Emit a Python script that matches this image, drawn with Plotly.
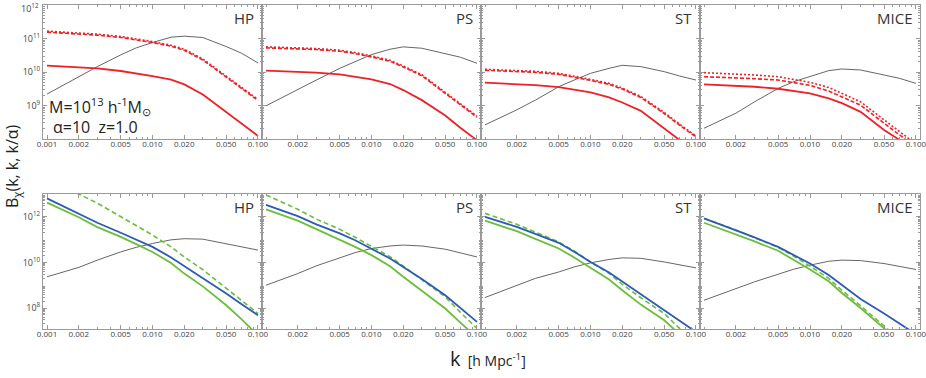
import plotly.graph_objects as go

# ---------------- data (log10 of B) ----------------
k = [0.001, 0.002, 0.003, 0.005, 0.007, 0.01, 0.015, 0.02, 0.03, 0.05, 0.07, 0.1]
panels = ["HP", "PS", "ST", "MICE"]
x_ticks = [0.001, 0.002, 0.005, 0.01, 0.02, 0.05, 0.1]
x_ticktext = ["0.001", "0.002", "0.005", "0.010", "0.020", "0.050", "0.100"]
top_yticks = [1e9, 1e10, 1e11, 1e12]
top_yticktext = ["10<sup>9</sup>", "10<sup>10</sup>", "10<sup>11</sup>", ""]
top_ylabel_edge = "10<sup>12</sup>"
bot_yticks = [1e8, 1e10, 1e12]
bot_yticktext = ["10<sup>8</sup>", "10<sup>10</sup>", "10<sup>12</sup>"]

# top row: grey reference, red solid, red dashed, red dotted
hp_top_gray = [9.34, 9.85, 10.16, 10.51, 10.72, 10.88, 11.04, 11.07, 11.03, 10.76, 10.56, 10.27]
hp_top_solid = [10.19, 10.15, 10.11, 10.03, 9.96, 9.88, 9.77, 9.63, 9.33, 8.81, 8.46, 8.09]
hp_top_dash = [11.19, 11.14, 11.10, 11.03, 10.96, 10.88, 10.77, 10.65, 10.36, 9.84, 9.49, 9.15]
hp_top_dot = [11.22, 11.17, 11.13, 11.06, 10.99, 10.91, 10.80, 10.68, 10.39, 9.87, 9.52, 9.18]

ps_top_gray = [8.99, 9.46, 9.76, 10.11, 10.31, 10.52, 10.68, 10.75, 10.71, 10.56, 10.44, 10.26]
ps_top_solid = [10.04, 10.01, 9.98, 9.93, 9.86, 9.78, 9.64, 9.46, 9.16, 8.70, 8.33, 7.96]
ps_top_dash = [10.72, 10.70, 10.67, 10.62, 10.55, 10.45, 10.32, 10.15, 9.89, 9.36, 9.01, 8.65]
ps_top_dot = [10.75, 10.73, 10.70, 10.65, 10.58, 10.48, 10.35, 10.18, 9.92, 9.39, 9.04, 8.68]

st_top_gray = [8.42, 8.87, 9.16, 9.56, 9.76, 9.96, 10.11, 10.20, 10.16, 10.01, 9.88, 9.76]
st_top_solid = [9.68, 9.64, 9.61, 9.55, 9.48, 9.39, 9.24, 9.09, 8.84, 8.32, 7.98, 7.60]
st_top_dash = [10.05, 10.02, 9.99, 9.93, 9.85, 9.75, 9.63, 9.49, 9.24, 8.76, 8.41, 8.06]
st_top_dot = [10.08, 10.05, 10.02, 9.96, 9.88, 9.78, 9.66, 9.52, 9.27, 8.79, 8.44, 8.09]

mice_top_gray = [8.32, 8.77, 9.11, 9.51, 9.71, 9.86, 10.04, 10.09, 10.06, 9.91, 9.81, 9.66]
mice_top_solid = [9.63, 9.59, 9.56, 9.50, 9.44, 9.36, 9.21, 9.07, 8.81, 8.27, 7.97, 7.60]
mice_top_dash = [9.86, 9.83, 9.80, 9.76, 9.68, 9.60, 9.43, 9.26, 9.01, 8.47, 8.12, 7.75]
mice_top_dot = [9.98, 9.94, 9.91, 9.86, 9.78, 9.69, 9.54, 9.36, 9.11, 8.57, 8.22, 7.85]

# bottom row: grey reference, blue solid, green solid, green dashed
hp_bot_gray = [9.37, 9.78, 10.10, 10.46, 10.66, 10.83, 10.99, 11.04, 11.02, 10.83, 10.70, 10.54]
hp_bot_blue = [12.81, 12.15, 11.74, 11.30, 11.01, 10.68, 10.22, 9.84, 9.33, 8.64, 8.17, 7.68]
hp_bot_green = [12.62, 11.98, 11.55, 11.12, 10.80, 10.46, 9.97, 9.51, 8.95, 8.12, 7.50, 6.80]
hp_bot_gdash = [13.60, 13.00, 12.60, 12.00, 11.60, 11.20, 10.68, 10.24, 9.68, 8.85, 8.30, 7.76]

ps_bot_gray = [9.00, 9.51, 9.85, 10.22, 10.43, 10.61, 10.72, 10.76, 10.72, 10.58, 10.43, 10.24]
ps_bot_blue = [12.52, 12.03, 11.67, 11.27, 10.97, 10.61, 10.17, 9.80, 9.27, 8.56, 8.00, 7.39]
ps_bot_green = [12.33, 11.83, 11.46, 11.00, 10.68, 10.32, 9.83, 9.37, 8.75, 7.98, 7.35, 6.70]
ps_bot_gdash = [12.96, 12.33, 11.90, 11.45, 11.10, 10.71, 10.25, 9.84, 9.24, 8.49, 7.80, 7.10]

st_bot_gray = [8.46, 9.00, 9.30, 9.58, 9.80, 9.98, 10.13, 10.20, 10.18, 10.02, 9.90, 9.76]
st_bot_blue = [12.00, 11.56, 11.25, 10.86, 10.47, 10.02, 9.56, 9.15, 8.60, 7.90, 7.45, 6.95]
st_bot_green = [11.83, 11.37, 11.03, 10.61, 10.22, 9.78, 9.25, 8.78, 8.15, 7.46, 6.85, 6.20]
st_bot_gdash = [12.15, 11.67, 11.33, 10.90, 10.50, 10.02, 9.52, 9.04, 8.45, 7.76, 7.10, 6.50]

mice_bot_gray = [8.34, 8.85, 9.15, 9.48, 9.70, 9.88, 10.05, 10.10, 10.08, 9.95, 9.83, 9.69]
mice_bot_blue = [11.93, 11.42, 11.10, 10.68, 10.33, 9.95, 9.45, 9.00, 8.40, 7.76, 7.30, 6.85]
mice_bot_green = [11.74, 11.24, 10.92, 10.51, 10.13, 9.69, 9.17, 8.66, 8.00, 7.15, 6.60, 5.90]
mice_bot_gdash = [11.93, 11.42, 11.08, 10.66, 10.28, 9.84, 9.30, 8.78, 8.10, 7.25, 6.70, 6.00]

top_gray = [hp_top_gray, ps_top_gray, st_top_gray, mice_top_gray]
top_solid = [hp_top_solid, ps_top_solid, st_top_solid, mice_top_solid]
top_dash = [hp_top_dash, ps_top_dash, st_top_dash, mice_top_dash]
top_dot = [hp_top_dot, ps_top_dot, st_top_dot, mice_top_dot]
bot_gray = [hp_bot_gray, ps_bot_gray, st_bot_gray, mice_bot_gray]
bot_blue = [hp_bot_blue, ps_bot_blue, st_bot_blue, mice_bot_blue]
bot_green = [hp_bot_green, ps_bot_green, st_bot_green, mice_bot_green]
bot_gdash = [hp_bot_gdash, ps_bot_gdash, st_bot_gdash, mice_bot_gdash]

# ---------------- styling ----------------
W, H = 926, 378
RED = "#ec2227"
BLUE = "#2b5bb8"
GREEN = "#6cbd3c"
GRAY = "#555555"
FRAME = "#9a9a9a"
FONT = "Open Sans"

x_edges = [43, 262, 481, 700, 920]
top_px = (5, 139)
bot_px = (194, 329)


def ydom(px):
    return [1 - px[1] / H, 1 - px[0] / H]


minor_x = [m * 10 ** e for e in (-3, -2) for m in range(1, 10)] + [0.1]
minor_top_y = [m * 10 ** e for e in range(8, 12) for m in range(2, 10)]
minor_bot_y = [m * 10 ** e for e in range(7, 13) for m in range(2, 10)]

fig = go.Figure()
layout = {}


def add(i, x, ylog, color, width, dash="solid"):
    ax = "" if i == 1 else str(i)
    fig.add_trace(go.Scatter(
        x=x, y=[10 ** v for v in ylog], mode="lines", xaxis="x" + ax, yaxis="y" + ax,
        line=dict(color=color, width=width, dash=dash),
        showlegend=False, hoverinfo="skip"))


for row in range(2):
    for p in range(4):
        i = row * 4 + p + 1
        ax = "" if i == 1 else str(i)
        xd = [x_edges[p] / W, x_edges[p + 1] / W]
        yd = ydom(top_px if row == 0 else bot_px)
        tvx = x_ticks if p == 0 else x_ticks[1:]
        ttx = x_ticktext if p == 0 else x_ticktext[1:]
        layout["xaxis" + ax] = dict(
            type="log", domain=xd, range=[-3.038, -0.962], anchor="y" + ax,
            tickvals=tvx, ticktext=ttx, ticks="inside", ticklen=4,
            tickcolor=FRAME, showline=True, linecolor=FRAME, linewidth=1,
            mirror="ticks", showgrid=False, zeroline=False, automargin=False,
            ticklabelstandoff=-3, ticklabeloverflow="allow",
            tickfont=dict(size=8, color="#444", family=FONT),
            minor=dict(tickvals=minor_x, ticks="inside", ticklen=2, tickcolor=FRAME, showgrid=False),
        )
        if row == 0:
            yr = [7.999, 12.001]
            tv, tt, mv = top_yticks, top_yticktext, minor_top_y
        else:
            yr = [7.08, 13.0]
            tv, tt, mv = bot_yticks, bot_yticktext, minor_bot_y
        layout["yaxis" + ax] = dict(
            type="log", domain=yd, range=yr, anchor="x" + ax,
            tickvals=tv, ticktext=tt, showticklabels=(p == 0),
            ticks="inside", ticklen=4, tickcolor=FRAME,
            showline=True, linecolor=FRAME, linewidth=1, mirror="ticks",
            showgrid=False, zeroline=False, ticklabeloverflow="allow", automargin=False,
            tickfont=dict(size=9, color="#444", family=FONT),
            minor=dict(tickvals=mv, ticks="inside", ticklen=2, tickcolor=FRAME, showgrid=False),
        )
        if row == 0:
            add(i, k, top_gray[p], GRAY, 0.9)
            add(i, k, top_solid[p], RED, 1.8)
            add(i, k, top_dash[p], RED, 1.6, "4px,2px")
            add(i, k, top_dot[p], RED, 1.6, "2px,2px")
        else:
            add(i, k, bot_gray[p], GRAY, 0.9)
            add(i, k, bot_gdash[p], GREEN, 1.6, "5px,3px")
            add(i, k, bot_green[p], GREEN, 1.8)
            add(i, k, bot_blue[p], BLUE, 1.8)

annotations = []
for row in range(2):
    for p in range(4):
        ypx = (top_px if row == 0 else bot_px)[0] + 13
        annotations.append(dict(
            text=panels[p], x=(x_edges[p + 1] - 6) / W, y=1 - ypx / H,
            xref="paper", yref="paper", xanchor="right", yanchor="middle",
            showarrow=False, font=dict(size=15, color="#333", family=FONT)))

annotations += [
    # top-edge tick label of the upper-left panel (kept inside the page)
    dict(text=top_ylabel_edge, x=40 / W, y=1.0, xref="paper", yref="paper",
         xanchor="right", yanchor="top", showarrow=False, borderpad=0,
         font=dict(size=9, color="#444", family=FONT)),
    dict(text="M=10<sup>13</sup> h<sup>-1</sup>M<sub>⊙</sub>", x=47 / W, y=1 - 106 / H,
         xref="paper", yref="paper", xanchor="left", yanchor="middle", showarrow=False,
         font=dict(size=16, color="#222", family=FONT)),
    dict(text="α=10  z=1.0", x=51 / W, y=1 - 127 / H,
         xref="paper", yref="paper", xanchor="left", yanchor="middle", showarrow=False,
         font=dict(size=16, color="#222", family=FONT)),
    dict(text="B<sub>χ</sub>(k, k, k/α)", x=13 / W, y=1 - 166 / H, textangle=-90,
         xref="paper", yref="paper", xanchor="center", yanchor="middle", showarrow=False,
         font=dict(size=16, color="#222", family=FONT)),
    dict(text="<span style='font-size:20px'>k</span>  [h Mpc<sup>-1</sup>]", x=488 / W, y=4 / H,
         xref="paper", yref="paper", xanchor="center", yanchor="bottom", showarrow=False,
         font=dict(size=14, color="#222", family=FONT)),
]

fig.update_layout(
    width=W, height=H, margin=dict(l=0, r=0, t=0, b=0, autoexpand=False),
    paper_bgcolor="white", plot_bgcolor="white",
    annotations=annotations, **layout)

fig.write_html("out.html", config={"displayModeBar": False},
               post_script="document.body.style.margin='0';document.body.style.overflow='hidden';")
